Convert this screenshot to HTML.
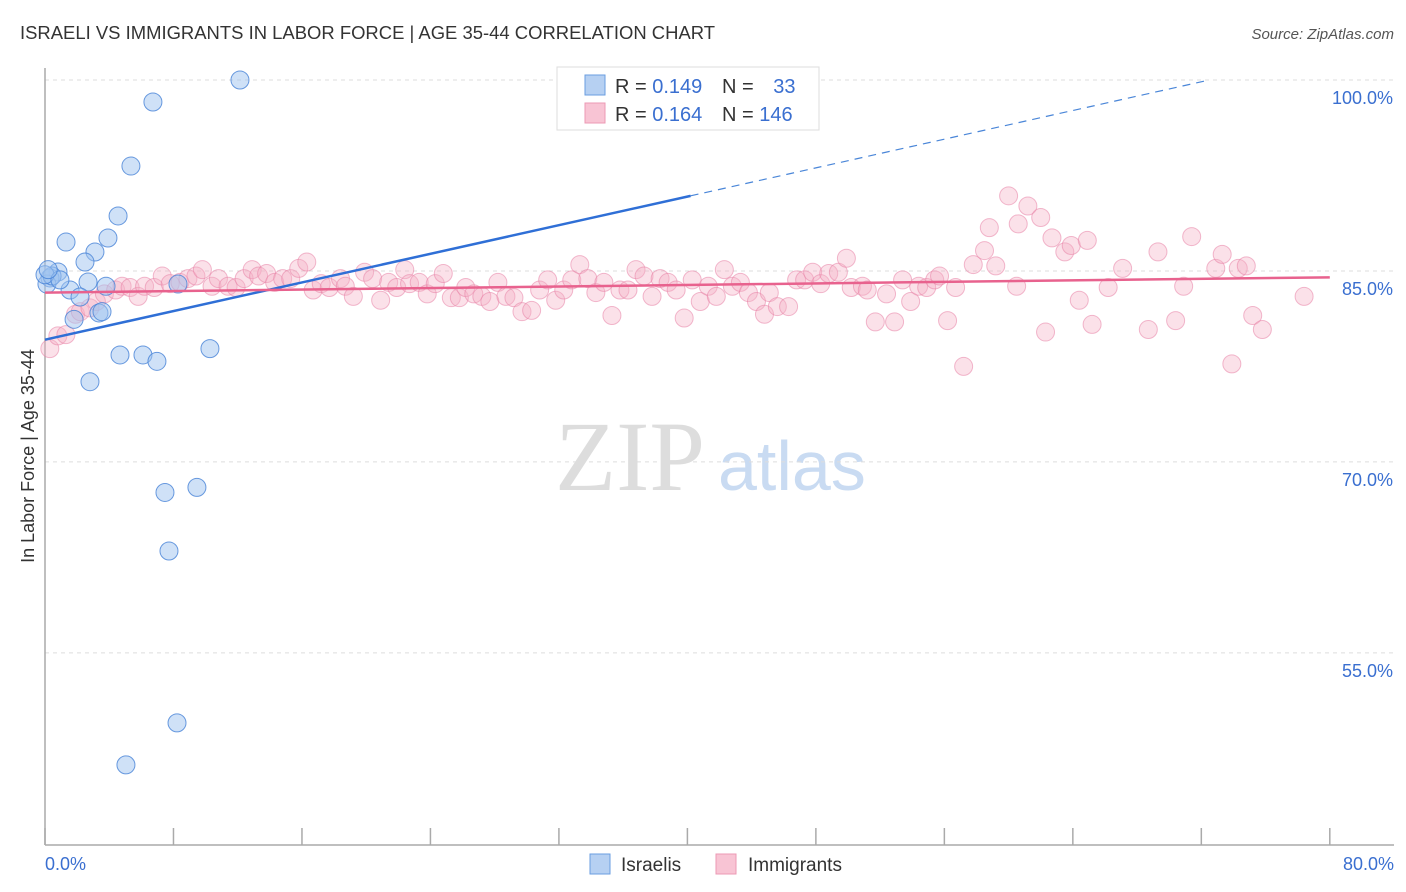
<!DOCTYPE html>
<html><head><meta charset="utf-8"><style>
body{margin:0;background:#fff;font-family:"Liberation Sans",sans-serif;}
svg{display:block}
</style></head><body>
<svg id="chart" width="1406" height="892">
<text x="20" y="39" font-size="18" fill="#333" textLength="695" lengthAdjust="spacingAndGlyphs">ISRAELI VS IMMIGRANTS IN LABOR FORCE | AGE 35-44 CORRELATION CHART</text>
<text x="1394" y="39" font-size="15" fill="#555" font-style="italic" text-anchor="end">Source: ZipAtlas.com</text>
<text x="555" y="490" font-size="100" fill="#ddd" font-family="Liberation Serif,serif">ZIP</text>
<text x="718" y="490" font-size="70" fill="#c9dbf2">atlas</text>
<g id="grid"></g><g id="axes"></g><g id="marks"></g>
<text transform="translate(34,456) rotate(-90)" font-size="18" fill="#333" text-anchor="middle">In Labor Force | Age 35-44</text>
<text x="45" y="870" font-size="18" fill="#3a6fd0">0.0%</text>
<text x="1394" y="870" font-size="18" fill="#3a6fd0" text-anchor="end">80.0%</text>
<g>
<rect x="557" y="67" width="262" height="63" fill="#fff" stroke="#ddd"/>
<rect x="585" y="75" width="20" height="20" fill="#b6d0f2" stroke="#6a9ee0"/>
<rect x="585" y="103" width="20" height="20" fill="#f8c4d4" stroke="#ec9ab4"/>
<text x="615" y="93" font-size="20" fill="#333">R = <tspan fill="#3a6fd0">0.149</tspan></text>
<text x="722" y="93" font-size="20" fill="#333">N = <tspan fill="#3a6fd0" dx="14">33</tspan></text>
<text x="615" y="121" font-size="20" fill="#333">R = <tspan fill="#3a6fd0">0.164</tspan></text>
<text x="722" y="121" font-size="20" fill="#333">N = <tspan fill="#3a6fd0">146</tspan></text>
</g>
<g>
<rect x="590" y="854" width="20" height="20" fill="#b6d0f2" stroke="#6a9ee0"/>
<text x="621" y="871" font-size="19" fill="#333">Israelis</text>
<rect x="716" y="854" width="20" height="20" fill="#f8c4d4" stroke="#ec9ab4"/>
<text x="748" y="871" font-size="19" fill="#333">Immigrants</text>
</g>
</svg>
<script>
const yTicks=[100,85,70,55];
const yTickLabels=["100.0%","85.0%","70.0%","55.0%"];
const xTicks=[0,8,16,24,32,40,48,56,64,72,80];
const blueX=[12.14,6.72,5.35,4.55,3.92,3.11,1.31,2.49,0.81,0.31,0.12,0.44,2.68,1.56,2.18,3.8,3.36,1.81,3.55,4.67,6.1,6.97,10.27,2.8,8.28,7.47,9.46,7.72,8.22,5.04,0,0.93,0.2];
const blueY=[100,98.27,93.24,89.32,87.59,86.49,87.27,85.7,84.92,84.45,83.97,84.6,84.13,83.5,82.95,83.8,81.7,81.2,81.8,78.4,78.4,77.9,78.9,76.3,83.97,67.6,68.0,63.0,49.5,46.2,84.7,84.3,85.1];
const pinkX=[0.3,0.8,1.3,1.9,2.2,2.8,3.2,3.7,4.4,4.8,5.3,5.8,6.2,6.8,7.3,7.8,8.4,8.9,9.4,9.8,10.4,10.8,11.4,11.9,12.4,12.9,13.3,13.8,14.3,14.8,15.3,15.8,16.3,16.7,17.2,17.7,18.4,18.7,19.2,19.9,20.4,20.9,21.4,21.9,22.4,22.7,23.3,23.8,24.3,24.8,25.3,25.8,26.2,26.7,27.2,27.7,28.2,28.7,29.2,29.7,30.3,30.8,31.3,31.8,32.3,32.8,33.3,33.8,34.3,34.8,35.3,35.8,36.3,36.8,37.3,37.8,38.3,38.8,39.3,39.8,40.3,40.8,41.3,41.8,42.3,42.8,43.3,43.8,44.3,44.8,45.1,45.6,46.3,46.8,47.3,47.8,48.3,48.8,49.4,49.9,50.2,50.9,51.2,51.7,52.4,52.9,53.4,53.9,54.4,54.9,55.4,55.7,56.2,56.7,57.2,57.8,58.5,58.8,59.2,60.0,60.5,60.6,61.2,62.0,62.3,62.7,63.5,63.9,64.4,64.9,65.2,66.2,67.1,68.7,69.3,70.4,70.9,71.4,72.9,73.3,73.9,74.3,74.8,75.2,75.8,78.4];
const pinkY=[78.9,79.9,80.0,81.6,81.8,82.1,82.6,83.2,83.5,83.8,83.7,83.0,83.8,83.7,84.6,84.0,84.1,84.4,84.6,85.1,83.8,84.4,83.8,83.7,84.4,85.1,84.6,84.8,84.1,84.4,84.4,85.2,85.7,83.5,84.0,83.7,84.4,83.8,83.0,84.9,84.4,82.7,84.1,83.7,85.1,84.0,84.1,83.2,84.0,84.8,82.9,82.9,83.7,83.2,83.0,82.6,84.1,83.0,82.9,81.8,81.9,83.5,84.3,82.7,83.5,84.3,85.5,84.4,83.3,84.1,81.5,83.5,83.5,85.1,84.6,83.0,84.4,84.1,83.5,81.3,84.3,82.6,83.8,83.0,85.1,83.8,84.1,83.3,82.6,81.6,83.3,82.2,82.2,84.3,84.3,84.9,84.0,84.8,84.9,86.0,83.7,83.8,83.5,81.0,83.2,81.0,84.3,82.6,83.8,83.7,84.3,84.6,81.1,83.7,77.5,85.5,86.6,88.4,85.4,90.9,83.8,88.7,90.1,89.2,80.2,87.6,86.5,87.0,82.7,87.4,80.8,83.7,85.2,80.4,86.5,81.1,83.8,87.7,85.2,86.3,77.7,85.2,85.4,81.5,80.4,83.0];
const blueTrend=[79.6,90.9,100];
const blueTrendX=[0,40.2,72.5];
const pinkTrend=[83.3,84.5];
const pinkTrendX=[0,80];
const NS="http://www.w3.org/2000/svg";
const X=v=>45+v*16.06;
const Y=v=>80+(100-v)*12.73;
function mk(tag,attrs,parent){const e=document.createElementNS(NS,tag);for(const k in attrs)e.setAttribute(k,attrs[k]);parent.appendChild(e);return e;}
const grid=document.getElementById('grid'),axes=document.getElementById('axes'),marks=document.getElementById('marks');
yTicks.forEach((t,i)=>{
  const l=mk('line',{x1:45,x2:1394,y1:Y(t),y2:Y(t),stroke:'#ddd','stroke-dasharray':'4,4'},grid);
  
  
  const tx=mk('text',{x:1393,y:Y(t)+24,'font-size':18,fill:'#3a6fd0','text-anchor':'end'},grid);
  tx.textContent=yTickLabels[i];
  
  
});
const ya=mk('line',{x1:45,x2:45,y1:68,y2:845,stroke:'#aaa','stroke-width':1.5},axes);


const xa=mk('line',{x1:45,x2:1394,y1:845,y2:845,stroke:'#aaa','stroke-width':1.5},axes);


xTicks.forEach(t=>{
  const l=mk('line',{x1:X(t),x2:X(t),y1:828,y2:845,stroke:'#aaa','stroke-width':1.5},axes);
  
  
});
pinkX.forEach((v,i)=>{
  const c=mk('circle',{cx:X(v),cy:Y(pinkY[i]),r:9,fill:'rgba(244,175,198,0.38)',stroke:'rgba(232,130,165,0.55)','stroke-width':1},marks);
  
  
});
blueX.forEach((v,i)=>{
  const c=mk('circle',{cx:X(v),cy:Y(blueY[i]),r:9,fill:'rgba(160,195,240,0.5)',stroke:'rgba(70,130,215,0.8)','stroke-width':1},marks);
  
  
});
const bl=mk('line',{x1:X(blueTrendX[0]),y1:Y(blueTrend[0]),x2:X(blueTrendX[1]),y2:Y(blueTrend[1]),stroke:'#2f6fd6','stroke-width':2.5},marks);


const bd=mk('line',{x1:X(blueTrendX[1]),y1:Y(blueTrend[1]),x2:X(blueTrendX[2]),y2:Y(blueTrend[2]),stroke:'#4a86d8','stroke-width':1.2,'stroke-dasharray':'8,6'},marks);


const pl=mk('line',{x1:X(pinkTrendX[0]),y1:Y(pinkTrend[0]),x2:X(pinkTrendX[1]),y2:Y(pinkTrend[1]),stroke:'#e8628e','stroke-width':2.5},marks);


</script>
</body></html>
